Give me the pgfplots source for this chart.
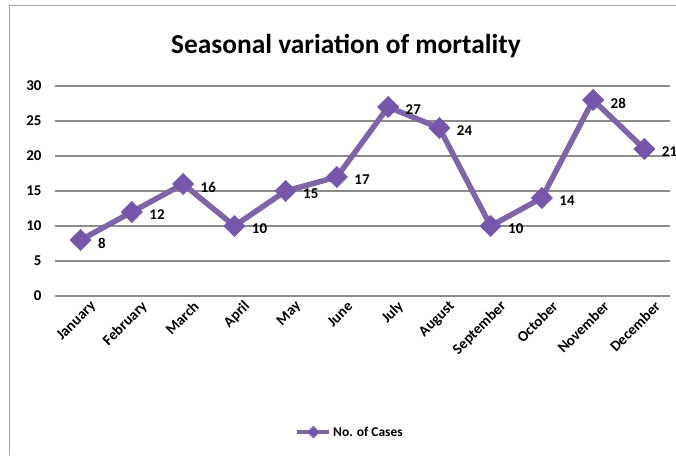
\documentclass[border=0pt]{standalone}
\usepackage{fontspec}
\setmainfont{Carlito}
\usepackage{pgfplots}
\pgfplotsset{compat=1.18}
\definecolor{excelpurple}{RGB}{128,100,168}
\definecolor{markpurple}{RGB}{118,86,170}
\definecolor{gridgray}{RGB}{140,140,140}

\begin{document}
\begin{tikzpicture}[x=1bp,y=1bp]
\useasboundingbox (0,0) rectangle (676,457);
\fill[white] (0,0) rectangle (676,457);
\draw[gray!70, line width=0.8bp] (9,2) -- (9,452) -- (690,452);
\node[font=\fontsize{27.5}{32}\selectfont\bfseries] at (346,411) {Seasonal variation of mortality};
\begin{axis}[
    at={(55bp,161bp)}, anchor=south west,
    scale only axis,
    width=615bp, height=210bp,
    xmin=-0.5, xmax=11.5,
    ymin=0, ymax=30,
    ytick={0,5,...,30},
    xtick={0,...,11},
    xticklabels={January,February,March,April,May,June,July,August,September,October,November,December},
    axis line style={draw=none},
    major tick length=0pt,
    ymajorgrids=true,
    grid style={gridgray, line width=1.1bp},
    tick label style={font=\fontsize{15}{18}\selectfont\bfseries},
    /pgf/number format/assume math mode=true,
    yticklabel style={xshift=-10bp},
    xticklabel style={rotate=45, anchor=east, xshift=7bp, yshift=-15bp},
    legend style={at={(0.48,-0.648)}, anchor=center, draw=none, fill=none,
        font=\fontsize{13.5}{16}\selectfont\bfseries},
    legend cell align=left,
    legend image code/.code={%
        \draw[mark repeat=2,mark phase=2,#1] plot coordinates {(0bp,0bp) (16bp,0bp) (32bp,0bp)};},
    clip=false,
]
\addplot[excelpurple, line width=5.5bp, mark=square*, mark size=7.5bp,
    mark options={rotate=45, fill=markpurple, draw=markpurple, line width=0.5bp},
    nodes near coords,
    every node near coord/.append style={anchor=west, xshift=14bp, yshift=-3bp, text=black,
        font=\fontsize{15}{18}\selectfont\bfseries},
    forget plot,
    ] coordinates {
    (0,8) (1,12) (2,16) (3,10) (4,15) (5,17) (6,27) (7,24) (8,10) (9,14) (10,28) (11,21)
};
\addlegendimage{excelpurple, line width=3.5bp, mark=square*, mark size=4.2bp, mark options={rotate=45, fill=markpurple, line width=0.5bp}}
\addlegendentry{No. of Cases}
\end{axis}
\end{tikzpicture}
\end{document}
